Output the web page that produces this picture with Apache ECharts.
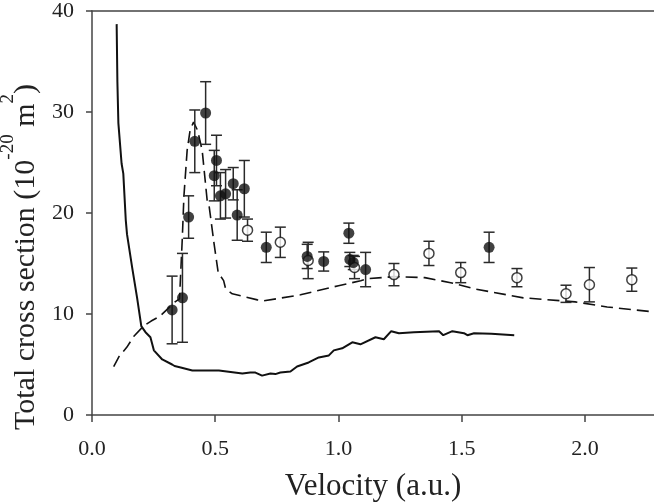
<!DOCTYPE html>
<html><head><meta charset="utf-8">
<script src="https://cdn.jsdelivr.net/npm/echarts@6/dist/echarts.min.js"></script>
<style>html,body{margin:0;padding:0;background:#fff}#c{width:654px;height:504px}</style>
</head><body><div id="c"></div>
<script>
// Filled circles: velocity, cross section, error
const filledV = [0.325,0.367,0.392,0.417,0.461,0.496,0.505,0.521,0.542,0.573,0.589,0.618,0.707,0.873,0.940,1.042,1.046,1.060,1.110,1.611];
const filledS = [10.4,11.6,19.6,27.1,29.9,23.7,25.2,21.7,21.9,22.9,19.8,22.4,16.6,15.7,15.2,18.0,15.4,15.1,14.4,16.6];
const filledE = [3.35,4.4,2.1,3.1,3.1,2.5,2.5,2.3,2.4,1.6,2.5,2.8,1.5,1.2,0.95,1.0,0.7,0.7,1.7,1.5];
// Open circles
const openV = [0.631,0.764,0.877,1.065,1.225,1.367,1.496,1.724,1.923,2.018,2.190];
const openS = [18.3,17.1,15.3,14.6,13.9,16.0,14.1,13.6,12.0,12.9,13.4];
const openE = [1.1,1.5,1.8,1.1,1.1,1.2,1.0,0.9,0.85,1.7,1.15];
// Dashed theory curve
const dashV = [0.088,0.110,0.141,0.170,0.209,0.240,0.276,0.337,0.355,0.366,0.373,0.386,0.398,0.412,0.428,0.447,0.467,0.474,0.495,0.512,0.534,0.542,0.569,0.671,0.696,0.846,1.0,1.09,1.12,1.225,1.35,1.455,1.55,1.75,1.96,2.09,2.28];
const dashS = [4.8,5.8,6.7,7.8,8.8,9.3,9.8,11.2,11.5,17.3,21.7,26.2,28.2,29.0,28.2,26.2,21.3,20.9,17.0,14.1,13.3,12.5,12.0,11.4,11.3,11.9,12.8,13.3,13.5,13.7,13.6,13.1,12.5,11.6,11.2,10.7,10.2];
// Solid theory curve
const solidV = [0.100,0.103,0.107,0.120,0.127,0.137,0.142,0.163,0.183,0.200,0.217,0.237,0.251,0.285,0.325,0.335,0.340,0.360,0.407,0.515,0.610,0.642,0.663,0.690,0.724,0.744,0.764,0.805,0.832,0.879,0.920,0.961,0.981,1.015,1.056,1.089,1.150,1.184,1.214,1.245,1.306,1.408,1.425,1.462,1.509,1.523,1.550,1.620,1.713];
const solidS = [38.7,33.0,28.9,24.9,23.9,19.3,17.9,14.6,11.6,8.8,8.2,7.7,6.4,5.5,5.0,4.85,5.0,4.7,4.4,4.4,4.1,4.2,4.2,3.9,4.1,4.05,4.2,4.3,4.8,5.2,5.7,5.9,6.4,6.6,7.2,7.0,7.7,7.5,8.3,8.1,8.2,8.3,7.9,8.3,8.1,7.9,8.1,8.05,7.9];
const xTicks = [0, 0.5, 1.0, 1.5, 2.0];
const yTicks = [0, 10, 20, 30, 40];

const FONT = '"Liberation Serif","DejaVu Serif",serif';
const zip2 = (a,b) => a.map((v,i)=>[v,b[i]]);
const zip3 = (a,b,c) => a.map((v,i)=>[v,b[i],c[i]]);

function errRender(params, api){
  const x = api.value(0), y = api.value(1), e = api.value(2);
  const t = api.coord([x, y+e]), b = api.coord([x, y-e]);
  const hw = 5.5, st = {stroke:'#2a2a2a', lineWidth:1.5};
  return {type:'group', children:[
    {type:'line', shape:{x1:t[0],y1:t[1],x2:b[0],y2:b[1]}, style:st},
    {type:'line', shape:{x1:t[0]-hw,y1:t[1],x2:t[0]+hw,y2:t[1]}, style:st},
    {type:'line', shape:{x1:b[0]-hw,y1:b[1],x2:b[0]+hw,y2:b[1]}, style:st}
  ]};
}

const chart = echarts.init(document.getElementById('c'));
chart.setOption({
  animation:false,
  backgroundColor:'#fff',
  grid:{left:92, right:0, top:11, bottom:89, containLabel:false, outerBoundsMode:'none'},
  xAxis:[{
    type:'value', min:0, max:2.28, interval:0.5,
    axisLine:{show:true, lineStyle:{color:'#444', width:1.5}},
    axisTick:{show:true, inside:false, length:7, customValues:xTicks, lineStyle:{color:'#444', width:1.5}},
    axisLabel:{customValues:xTicks, formatter:v=>v.toFixed(1), fontFamily:FONT, fontSize:22, color:'#222', margin:23},
    splitLine:{show:false},
    name:'Velocity (a.u.)', nameLocation:'middle', nameGap:56,
    nameTextStyle:{fontFamily:FONT, fontSize:31, color:'#222'}
  },{
    type:'value', position:'top', min:0, max:2.28,
    axisLine:{show:true, onZero:false, lineStyle:{color:'#444', width:1.5}},
    axisTick:{show:false}, axisLabel:{show:false}, splitLine:{show:false}
  }],
  yAxis:{
    type:'value', min:0, max:40, interval:10,
    axisLine:{show:true, lineStyle:{color:'#444', width:1.5}},
    axisTick:{show:true, inside:false, length:6, customValues:yTicks, lineStyle:{color:'#444', width:1.5}},
    axisLabel:{customValues:yTicks, fontFamily:FONT, fontSize:22, color:'#222', margin:18},
    splitLine:{show:false}
  },
  graphic:[{
    type:'text', x:20, y:257, rotation:Math.PI/2,
    style:{
      text:'{m|Total cross section (10}{s|-20}{m| m}{s|2}{m|)}',
      align:'center', verticalAlign:'middle',
      fontFamily:FONT, fontSize:30,
      fill:'#222',
      rich:{
        m:{fontFamily:FONT, fontSize:30, lineHeight:42, verticalAlign:'bottom', fill:'#222'},
        s:{fontFamily:FONT, fontSize:19, lineHeight:42, verticalAlign:'top', fill:'#222'}
      }
    }
  }],
  series:[
    {type:'line', data:zip2(solidV, solidS), showSymbol:false, symbol:'none', lineStyle:{color:'#111', width:2}, z:2},
    {type:'line', data:zip2(dashV, dashS), showSymbol:false, symbol:'none', lineStyle:{color:'#111', width:1.6, type:[12,6]}, z:2},
    {type:'custom', data:zip3(filledV, filledS, filledE), renderItem:errRender, z:3},
    {type:'custom', data:zip3(openV, openS, openE), renderItem:errRender, z:3},
    {type:'scatter', data:zip2(openV, openS), symbol:'circle', symbolSize:10, itemStyle:{color:'#fff', borderColor:'#111', borderWidth:1.5}, z:4},
    {type:'scatter', data:zip2(filledV, filledS), symbol:'circle', symbolSize:11, itemStyle:{color:'#111'}, z:5}
  ]
});
</script></body></html>
